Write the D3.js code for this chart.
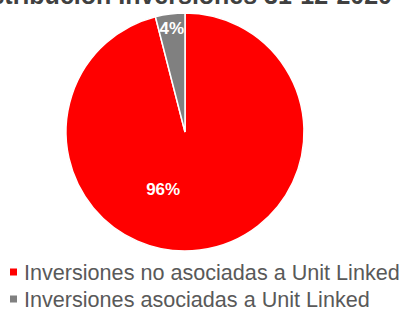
<!DOCTYPE html>
<html><head><meta charset="utf-8">
<script src="https://cdn.jsdelivr.net/npm/d3@7"></script>
<style>html,body{margin:0;padding:0;background:#fff;overflow:hidden}</style>
</head><body>
<svg id="c" width="403" height="313"></svg>
<script>
const title = "Distribución Inversiones 31-12-2020";
const categories = ["Inversiones no asociadas a Unit Linked", "Inversiones asociadas a Unit Linked"];
const values = [96, 4];
const labels = ["96%", "4%"];
const colors = ["#FF0000", "#808080"];

const svg = d3.select("#c");
const font = "'Liberation Sans', Arial, sans-serif";

svg.append("text").attr("x", 392).attr("y", 4).attr("text-anchor", "end")
  .attr("font-family", font).attr("font-weight", "bold").attr("font-size", 25)
  .attr("fill", "#404040").text(title);

const cx = 185, cy = 132, R = 119;
const data = categories.map((c, i) => ({cat: c, value: values[i], label: labels[i], color: colors[i]}));
const pie = d3.pie().sort(null).value(d => d.value);
const arcs = pie(data);
const arc = d3.arc().innerRadius(0).outerRadius(R);
const g = svg.append("g").attr("transform", `translate(${cx},${cy})`);
g.selectAll("path").data(arcs).join("path")
  .attr("d", arc).attr("fill", d => d.data.color)
  .attr("stroke", "#fff").attr("stroke-width", 1.5);

// label placement (Excel best-fit approximation)
const labelR = [0.48, 0.88];
const nudge = [[-29, 0], [0, 0]];
g.selectAll("text.lbl").data(arcs).join("text").attr("class", "lbl")
  .attr("transform", (d, i) => {
    const la = d3.arc().innerRadius(R * labelR[i]).outerRadius(R * labelR[i]);
    const [x, y] = la.centroid(d);
    return `translate(${x + nudge[i][0]},${y + nudge[i][1]})`;
  })
  .attr("text-anchor", "middle").attr("dy", "0.35em")
  .attr("font-family", font).attr("font-weight", "bold").attr("font-size", 17)
  .attr("fill", "#fff").text(d => d.data.label);

const leg = svg.append("g").attr("transform", "translate(10,272)");
const rows = leg.selectAll("g").data(data).join("g")
  .attr("transform", (d, i) => `translate(0,${i * 27})`);
rows.append("rect").attr("x", 0).attr("y", -3.5).attr("width", 7).attr("height", 7).attr("fill", d => d.color);
rows.append("text").attr("x", 14).attr("y", 0).attr("dy", "0.35em")
  .attr("font-family", font).attr("font-size", 21.6).attr("fill", "#595959").text(d => d.cat);
</script>
</body></html>
